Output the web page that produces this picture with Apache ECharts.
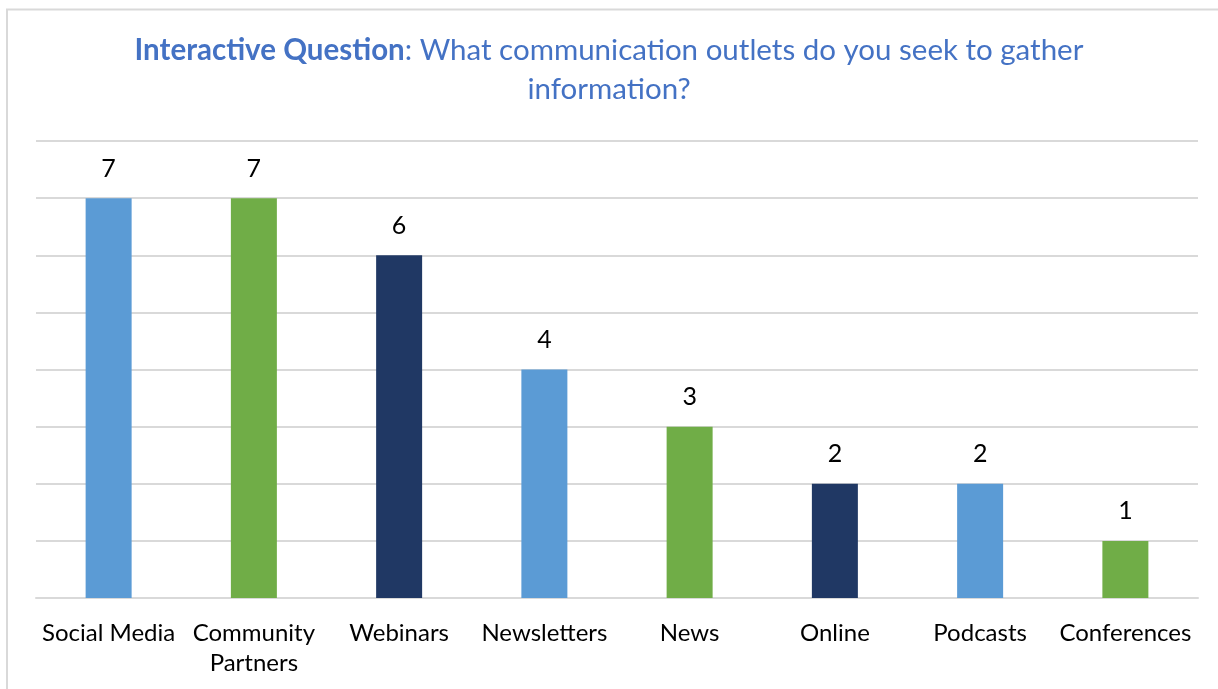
<!DOCTYPE html>
<html><head><meta charset="utf-8">
<script src="https://cdn.jsdelivr.net/npm/echarts@6/dist/echarts.min.js"></script>
<style>html,body{margin:0;padding:0;background:#fff}#c{width:1218px;height:689px}</style>
</head><body><div id="c"></div>
<script>
const categories = ['Social Media', 'Community\nPartners', 'Webinars', 'Newsletters', 'News', 'Online', 'Podcasts', 'Conferences'];
const values = [7, 7, 6, 4, 3, 2, 2, 1];
const barColors = ['#5B9BD5', '#70AD47', '#203864', '#5B9BD5', '#70AD47', '#203864', '#5B9BD5', '#70AD47'];
const titleBold = 'Interactive Question';
const titleRest = ': What communication outlets do you seek to gather\ninformation?';

const font = 'Lato, "Open Sans", sans-serif';
const chart = echarts.init(document.getElementById('c'), null, {renderer: 'canvas'});
chart.setOption({
  animation: false,
  backgroundColor: '#fff',
  graphic: [{
    type: 'rect', silent: true, z: -1,
    shape: {x: 7, y: 9.5, width: 1240, height: 720},
    style: {fill: 'none', stroke: '#D9D9D9', lineWidth: 2}
  }],
  title: {
    left: 'center', top: 26,
    text: '{b|' + titleBold + '}' + titleRest,
    textStyle: {
      fontFamily: font, fontSize: 29.5, fontWeight: 'normal', color: '#4472C4', lineHeight: 39,
      rich: {b: {fontFamily: font, fontSize: 29.5, fontWeight: 'bold', color: '#4472C4', lineHeight: 39}}
    }
  },
  grid: {left: 36, right: 20, top: 141, bottom: 91, containLabel: false},
  xAxis: {
    type: 'category', data: categories,
    axisLine: {lineStyle: {color: '#D9D9D9', width: 2}},
    axisTick: {show: false},
    axisLabel: {interval: 0, color: '#000', fontFamily: font, fontSize: 24, margin: 20, lineHeight: 30}
  },
  yAxis: {
    type: 'value', min: 0, max: 8, interval: 1,
    axisLabel: {show: false}, axisLine: {show: false}, axisTick: {show: false},
    splitLine: {lineStyle: {color: '#D9D9D9', width: 2}}
  },
  series: [{
    type: 'bar', barWidth: 46,
    data: values.map((v, i) => ({value: v, itemStyle: {color: barColors[i]}})),
    label: {show: true, position: 'top', distance: 17, color: '#000', fontFamily: font, fontSize: 25}
  }]
});
</script></body></html>
